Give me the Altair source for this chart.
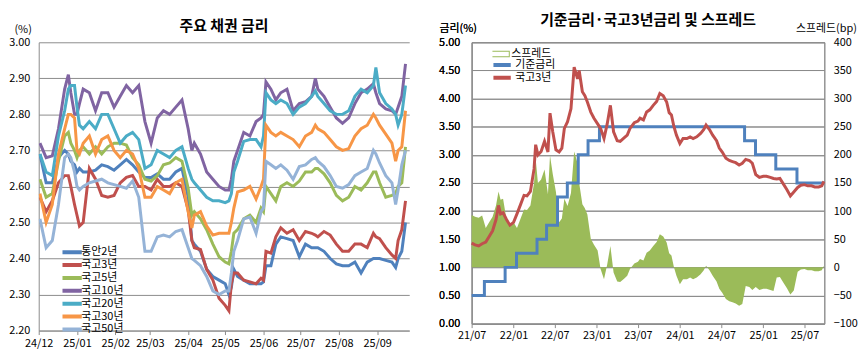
import altair as alt
import pandas as pd

FONT = "Noto Sans CJK KR"
GRID = "#8C8C8C"

# ---------------- Left chart: 주요 채권 금리 ----------------
left_dates = [
    "2024-12-02", "2024-12-07", "2024-12-12", "2024-12-17", "2024-12-22", "2024-12-25", "2024-12-27", "2024-12-30",
    "2025-01-01", "2025-01-03", "2025-01-06", "2025-01-11", "2025-01-16", "2025-01-21", "2025-01-26", "2025-01-31",
    "2025-02-05", "2025-02-10", "2025-02-15", "2025-02-20", "2025-02-25",
    "2025-03-02", "2025-03-07", "2025-03-12", "2025-03-17", "2025-03-22", "2025-03-27",
    "2025-04-01", "2025-04-04", "2025-04-06", "2025-04-11", "2025-04-16", "2025-04-21", "2025-04-26",
    "2025-05-01", "2025-05-04", "2025-05-06", "2025-05-08", "2025-05-11", "2025-05-16", "2025-05-21", "2025-05-26", "2025-05-30",
    "2025-06-01", "2025-06-03", "2025-06-07", "2025-06-11", "2025-06-15", "2025-06-20", "2025-06-25", "2025-06-30",
    "2025-07-05", "2025-07-10", "2025-07-13", "2025-07-15", "2025-07-20", "2025-07-25", "2025-07-30",
    "2025-08-04", "2025-08-09", "2025-08-14", "2025-08-19", "2025-08-24", "2025-08-29", "2025-08-31",
    "2025-09-03", "2025-09-08", "2025-09-13", "2025-09-16", "2025-09-18", "2025-09-21", "2025-09-24",
]

msb2 = [
    2.69, 2.61, 2.61, 2.68, 2.70, 2.69, 2.67, 2.66,
    2.64, 2.65, 2.64, 2.64, 2.645, 2.66, 2.655, 2.645,
    2.66, 2.675, 2.66, 2.64, 2.625,
    2.625, 2.635, 2.62, 2.62, 2.64, 2.65,
    2.57, 2.45, 2.44, 2.42, 2.37, 2.35, 2.34,
    2.33, 2.30, 2.32, 2.37, 2.35, 2.34, 2.33, 2.33, 2.33,
    2.335, 2.38, 2.38, 2.44, 2.46, 2.455, 2.45, 2.405,
    2.44, 2.43, 2.43, 2.43, 2.42, 2.40, 2.385,
    2.38, 2.38, 2.39, 2.36, 2.39, 2.40, 2.40,
    2.40, 2.395, 2.39, 2.375, 2.40, 2.42, 2.50,
]
ktb3 = [
    2.57, 2.53, 2.56, 2.61, 2.63, 2.63, 2.60, 2.55,
    2.52, 2.49, 2.50, 2.65, 2.62, 2.575, 2.57, 2.575,
    2.61, 2.625, 2.63, 2.60, 2.60,
    2.59, 2.62, 2.60, 2.60, 2.61, 2.60,
    2.535, 2.45, 2.43, 2.425, 2.37, 2.34, 2.29,
    2.27, 2.255, 2.33, 2.36, 2.36, 2.34, 2.335, 2.33, 2.345,
    2.34, 2.42, 2.415, 2.46, 2.485, 2.47, 2.48, 2.45,
    2.475, 2.47, 2.465, 2.46, 2.475, 2.465, 2.44,
    2.42, 2.42, 2.44, 2.44, 2.43, 2.47, 2.46,
    2.455, 2.43, 2.41, 2.40, 2.45, 2.48, 2.56,
]
ktb5 = [
    2.62, 2.57, 2.58, 2.67, 2.74, 2.75, 2.72, 2.70,
    2.68, 2.70, 2.71, 2.69, 2.71, 2.69, 2.71, 2.72,
    2.72, 2.715, 2.68, 2.66, 2.62,
    2.615, 2.63, 2.66, 2.665, 2.68, 2.67,
    2.595, 2.52, 2.53, 2.51, 2.48, 2.44, 2.405,
    2.39, 2.385, 2.42, 2.47, 2.48, 2.51, 2.52, 2.50, 2.54,
    2.53, 2.60, 2.58, 2.56, 2.60, 2.61, 2.60, 2.615,
    2.64, 2.64, 2.65, 2.65, 2.635, 2.61, 2.575,
    2.56, 2.57, 2.60, 2.59, 2.61, 2.64, 2.64,
    2.61, 2.57, 2.575, 2.58, 2.60, 2.61, 2.71,
]
ktb10 = [
    2.72, 2.68, 2.685, 2.76, 2.87, 2.91, 2.86, 2.80,
    2.80, 2.83, 2.87, 2.86, 2.81, 2.86, 2.86, 2.82,
    2.85, 2.88, 2.86, 2.88, 2.78,
    2.72, 2.79, 2.81, 2.80, 2.82, 2.84,
    2.76, 2.70, 2.72, 2.69, 2.64, 2.62, 2.60,
    2.59, 2.59, 2.62, 2.67, 2.70, 2.75, 2.74, 2.78, 2.79,
    2.80, 2.89, 2.87, 2.84, 2.86, 2.87, 2.81, 2.83,
    2.835, 2.85, 2.90, 2.87, 2.85, 2.82, 2.79,
    2.775, 2.79, 2.83, 2.86, 2.87, 2.885, 2.86,
    2.83, 2.815, 2.81, 2.80, 2.82, 2.85, 2.94,
]
ktb20 = [
    2.69, 2.64, 2.63, 2.74, 2.81, 2.87, 2.88, 2.88,
    2.82, 2.77, 2.76, 2.78, 2.76, 2.80, 2.80, 2.76,
    2.72, 2.74, 2.75, 2.73, 2.65,
    2.66, 2.70, 2.69, 2.68, 2.70, 2.71,
    2.65, 2.62, 2.61, 2.59, 2.57, 2.56, 2.56,
    2.555, 2.56, 2.58, 2.64, 2.67, 2.725, 2.73, 2.73, 2.71,
    2.74, 2.86, 2.84, 2.83, 2.84, 2.83, 2.80, 2.82,
    2.83, 2.85, 2.865, 2.85, 2.83, 2.81, 2.80,
    2.80, 2.81, 2.85, 2.87, 2.86, 2.88, 2.93,
    2.86, 2.83, 2.815, 2.80, 2.77, 2.80, 2.88,
]
ktb30 = [
    2.58, 2.50, 2.55, 2.69, 2.76, 2.80, 2.80, 2.79,
    2.70, 2.69, 2.72, 2.74, 2.69, 2.73, 2.74, 2.70,
    2.68, 2.70, 2.69, 2.65, 2.57,
    2.57, 2.60, 2.59, 2.58, 2.61, 2.62,
    2.53, 2.485, 2.52, 2.53, 2.49, 2.465, 2.47,
    2.47, 2.47, 2.50, 2.54, 2.585, 2.59, 2.60, 2.565, 2.60,
    2.62, 2.77, 2.75, 2.74, 2.75, 2.74, 2.73, 2.71,
    2.74, 2.75, 2.77, 2.76, 2.75, 2.73, 2.71,
    2.70, 2.705, 2.74, 2.76, 2.77, 2.80, 2.79,
    2.77, 2.745, 2.72, 2.67, 2.70, 2.71, 2.81,
]
ktb50 = [
    2.51, 2.43, 2.45, 2.55, 2.68, 2.69, 2.68, 2.64,
    2.60, 2.59, 2.60, 2.61, 2.615, 2.62, 2.61, 2.605,
    2.60, 2.595, 2.615, 2.57, 2.42,
    2.42, 2.46, 2.465, 2.46, 2.475, 2.48,
    2.43, 2.40, 2.395, 2.38, 2.35, 2.31, 2.30,
    2.31, 2.31, 2.36, 2.42, 2.45, 2.51, 2.515, 2.47, 2.53,
    2.54, 2.67, 2.66, 2.65, 2.66, 2.645, 2.62, 2.655,
    2.66, 2.675, 2.68, 2.67, 2.655, 2.63, 2.60,
    2.595, 2.605, 2.63, 2.64, 2.65, 2.70, 2.69,
    2.665, 2.63, 2.61, 2.55, 2.59, 2.66, 2.70,
]

left_names = ["통안2년", "국고3년", "국고5년", "국고10년", "국고20년", "국고30년", "국고50년"]
left_colors = ["#4F81BD", "#C0504D", "#9BBB59", "#8064A2", "#4BACC6", "#F79646", "#95B3D7"]
left_values = [msb2, ktb3, ktb5, ktb10, ktb20, ktb30, ktb50]
left_yticks = [2.2, 2.3, 2.4, 2.5, 2.6, 2.7, 2.8, 2.9, 3.0]
left_xticks = [(2024, 12), (2025, 1), (2025, 2), (2025, 3), (2025, 4), (2025, 5),
               (2025, 6), (2025, 7), (2025, 8), (2025, 9)]

rows = []
for name, vals in zip(left_names, left_values):
    for d, v in zip(left_dates, vals):
        rows.append({"date": d, "series": name, "rate": v})
left_df = pd.DataFrame(rows)


def dt(y, m, d=1):
    return alt.DateTime(year=y, month=m, date=d, utc=True)


axis_common = dict(
    labelFont=FONT, labelFontSize=11, labelColor="#000000",
    titleFont=FONT, titleFontSize=11, titleFontWeight="normal", titleColor="#000000",
    domainColor=GRID, tickColor=GRID, labelOverlap=False,
)

left = alt.Chart(left_df).mark_line(strokeWidth=3, clip=True).encode(
    x=alt.X(
        "date:T",
        scale=alt.Scale(type="utc", domain=[dt(2024, 12, 1), dt(2025, 9, 27)]),
        axis=alt.Axis(values=[dt(y, m) for y, m in left_xticks], format="%y/%m", title=None,
                      grid=False, tickSize=4, labelPadding=3, labelFlush=False, **axis_common),
    ),
    y=alt.Y(
        "rate:Q",
        scale=alt.Scale(domain=[2.2, 3.0], nice=False, zero=False),
        axis=alt.Axis(values=left_yticks, format=".2f", title="(%)", titleAngle=0,
                      titleAlign="left", titleBaseline="alphabetic", titleX=-25, titleY=-10,
                      grid=True, gridColor=GRID, ticks=False, labelPadding=9, **axis_common),
    ),
    color=alt.Color(
        "series:N",
        scale=alt.Scale(domain=left_names, range=left_colors),
        legend=alt.Legend(title=None, orient="none", legendX=24, legendY=206,
                          symbolType="M-5.6,0H5.6", symbolSize=25, symbolStrokeWidth=4,
                          labelFont=FONT, labelFontSize=11, labelColor="#000000",
                          labelOffset=8, clipHeight=11.7, rowPadding=0, padding=0),
    ),
    detail="series:N",
).properties(
    width=374, height=291,
    title=alt.Title("주요 채권 금리", font=FONT, fontSize=15, fontWeight="bold", offset=-11),
    view=alt.ViewBackground(stroke="transparent"),
)

# ---------------- Right chart: 기준금리·국고3년금리 및 스프레드 ----------------
ktb3y_dates = [
    "2021-07-01", "2021-07-16", "2021-08-01", "2021-08-16", "2021-09-01", "2021-09-16", "2021-10-01", "2021-10-16",
    "2021-10-27", "2021-11-05", "2021-11-16", "2021-12-01", "2021-12-16", "2022-01-01", "2022-01-16", "2022-02-01",
    "2022-02-16", "2022-03-01", "2022-03-16", "2022-04-01", "2022-04-08", "2022-04-18", "2022-05-02", "2022-05-17",
    "2022-06-01", "2022-06-10", "2022-06-22", "2022-07-06", "2022-07-20", "2022-08-01", "2022-08-12", "2022-08-26",
    "2022-09-10", "2022-09-24", "2022-10-09", "2022-10-16", "2022-10-30", "2022-11-10", "2022-11-21", "2022-12-06",
    "2022-12-20", "2023-01-05", "2023-01-18", "2023-02-02", "2023-02-16", "2023-03-02", "2023-03-16", "2023-04-01",
    "2023-04-14", "2023-05-01", "2023-05-15", "2023-05-27", "2023-06-15", "2023-07-01", "2023-07-10", "2023-07-25",
    "2023-08-08", "2023-08-22", "2023-09-06", "2023-09-21", "2023-10-05", "2023-10-20", "2023-11-04", "2023-11-15",
    "2023-11-25", "2023-12-06", "2023-12-17", "2024-01-01", "2024-01-15", "2024-02-01", "2024-02-15", "2024-02-28",
    "2024-03-15", "2024-04-01", "2024-04-15", "2024-04-25", "2024-05-10", "2024-05-24", "2024-06-10", "2024-06-22",
    "2024-07-05", "2024-07-21", "2024-08-05", "2024-08-19", "2024-09-02", "2024-09-17", "2024-10-01", "2024-10-16",
    "2024-11-01", "2024-11-14", "2024-11-29", "2024-12-15", "2025-01-01", "2025-01-15", "2025-02-01", "2025-02-15",
    "2025-03-01", "2025-03-15", "2025-04-01", "2025-04-15", "2025-04-30", "2025-05-15", "2025-06-01", "2025-06-15",
    "2025-07-01", "2025-07-15", "2025-08-01", "2025-08-15", "2025-09-01", "2025-09-15", "2025-09-24",
]
ktb3y_vals = [
    1.43, 1.40, 1.38, 1.42, 1.45, 1.55, 1.65, 1.85,
    2.10, 1.95, 1.97, 1.85, 1.75, 1.80, 1.95, 2.12,
    2.28, 2.27, 2.35, 2.75, 3.18, 3.00, 3.06, 3.24,
    3.05, 3.74, 3.41, 3.09, 3.05, 3.12, 3.47, 3.59,
    3.82, 4.56, 4.35, 4.50, 4.12, 4.05, 3.94, 3.76,
    3.65, 3.55, 3.47, 3.29, 3.55, 3.88, 3.41, 3.25,
    3.24, 3.30, 3.35, 3.47, 3.57, 3.60, 3.65, 3.62,
    3.76, 3.80, 3.88, 3.95, 4.09, 4.05, 3.94, 3.75,
    3.71, 3.50, 3.35, 3.20, 3.29, 3.29, 3.32, 3.29,
    3.32, 3.38, 3.45, 3.53, 3.45, 3.35, 3.25, 3.12,
    3.05, 2.94, 2.90, 2.88, 2.86, 2.82, 2.85, 2.92,
    2.90, 2.85, 2.65, 2.60, 2.62, 2.62, 2.60, 2.58,
    2.57, 2.58, 2.47, 2.38, 2.27, 2.34, 2.42, 2.46,
    2.47, 2.45, 2.45, 2.43, 2.43, 2.45, 2.53,
]
base_dates = [
    "2021-07-01", "2021-08-26", "2021-11-25", "2022-01-14", "2022-04-14", "2022-05-26", "2022-07-13",
    "2022-08-25", "2022-10-12", "2022-11-24", "2023-01-13", "2024-10-11", "2024-11-28", "2025-02-25",
    "2025-05-29", "2025-09-26",
]
base_vals = [0.50, 0.75, 1.00, 1.25, 1.50, 1.75, 2.25, 2.50, 3.00, 3.25, 3.50, 3.25, 3.00, 2.75, 2.50, 2.50]

right_names = ["기준금리", "국고3년"]
right_colors = ["#4F81BD", "#C0504D"]
spread_color = "#9BBB59"

t3 = pd.DataFrame({"date": pd.to_datetime(ktb3y_dates), "rate": ktb3y_vals})
br = pd.DataFrame({"date": pd.to_datetime(base_dates), "base": base_vals})
sp = pd.merge_asof(t3.sort_values("date"), br.sort_values("date"), on="date")
sp["spread"] = (sp["rate"] - sp["base"]) * 100
sp["date"] = sp["date"].dt.strftime("%Y-%m-%d")
sp["leg"] = "스프레드"

t3_df = pd.DataFrame({"date": ktb3y_dates, "rate": ktb3y_vals, "series": "국고3년"})
br_df = pd.DataFrame({"date": base_dates, "rate": base_vals, "series": "기준금리"})

right_xticks = [(2021, 7), (2022, 1), (2022, 7), (2023, 1), (2023, 7), (2024, 1), (2024, 7), (2025, 1), (2025, 7)]
rx = alt.X(
    "date:T",
    scale=alt.Scale(type="utc", domain=[dt(2021, 7, 1), dt(2025, 9, 26)]),
    axis=alt.Axis(values=[dt(y, m) for y, m in right_xticks], format="%y/%m", title=None,
                  grid=False, tickSize=4, labelPadding=2, labelFlush=False, **axis_common),
)
rate_y = alt.Y(
    "rate:Q",
    scale=alt.Scale(domain=[0, 5], nice=False),
    axis=alt.Axis(values=[0, 0.5, 1, 1.5, 2, 2.5, 3, 3.5, 4, 4.5, 5], format=".2f", title="금리(%)",
                  titleAngle=0, titleAlign="left", titleBaseline="alphabetic", titleX=-33, titleY=-11,
                  grid=True, gridColor=GRID, ticks=False, labelPadding=12, **axis_common),
)
color_enc = alt.Color(
    "series:N",
    scale=alt.Scale(domain=right_names, range=right_colors),
    legend=alt.Legend(title=None, orient="none", legendX=22, legendY=17,
                      symbolType="M-4.8,0H4.8", symbolSize=25, symbolStrokeWidth=4,
                      labelFont=FONT, labelFontSize=11, labelColor="#000000",
                      labelOffset=11, clipHeight=11.7, rowPadding=0, padding=0),
)

spread_layer = alt.Chart(sp).mark_area(fill=spread_color, strokeWidth=0).encode(
    x=rx,
    y=alt.Y(
        "spread:Q",
        scale=alt.Scale(domain=[-100, 400], nice=False),
        axis=alt.Axis(orient="right", values=list(range(-100, 401, 50)), format="d", title="스프레드(bp)",
                      titleAngle=0, titleAlign="left", titleBaseline="alphabetic", titleX=-29, titleY=-11,
                      grid=False, ticks=False, labelPadding=9, **axis_common),
    ),
    stroke=alt.Stroke(
        "leg:N",
        scale=alt.Scale(domain=["스프레드"], range=[spread_color]),
        legend=alt.Legend(title=None, orient="none", legendX=21, legendY=6,
                          symbolType="M-3,-0.8H3V0.8H-3ZM-2.75,-0.55V0.55H2.75V-0.55Z",
                          symbolSize=64, symbolStrokeWidth=0,
                          labelFont=FONT, labelFontSize=11, labelColor="#000000",
                          labelOffset=8, clipHeight=11.7, padding=0),
    ),
)

base_layer = alt.Chart(br_df).mark_line(strokeWidth=3, interpolate="step-after").encode(
    x=rx, y=rate_y, color=color_enc,
)
ktb_layer = alt.Chart(t3_df).mark_line(strokeWidth=3).encode(
    x=rx, y=rate_y, color=color_enc,
)

right = alt.layer(spread_layer, base_layer, ktb_layer).resolve_scale(
    y="independent"
).properties(
    width=356, height=284,
    title=alt.Title("기준금리·국고3년금리 및 스프레드", font=FONT, fontSize=15, fontWeight="bold", offset=-6),
    view=alt.ViewBackground(stroke=GRID),
)

chart = alt.hconcat(left, right, spacing=28).resolve_scale(
    color="independent", stroke="independent"
).resolve_legend(
    color="independent", stroke="independent"
).properties(
    padding={"left": 0, "top": 3, "right": 0, "bottom": 0},
).configure_view(stroke="transparent").configure_title(anchor="middle", color="#000000")

chart.save("out.html", embed_options={"renderer": "svg", "actions": False})
